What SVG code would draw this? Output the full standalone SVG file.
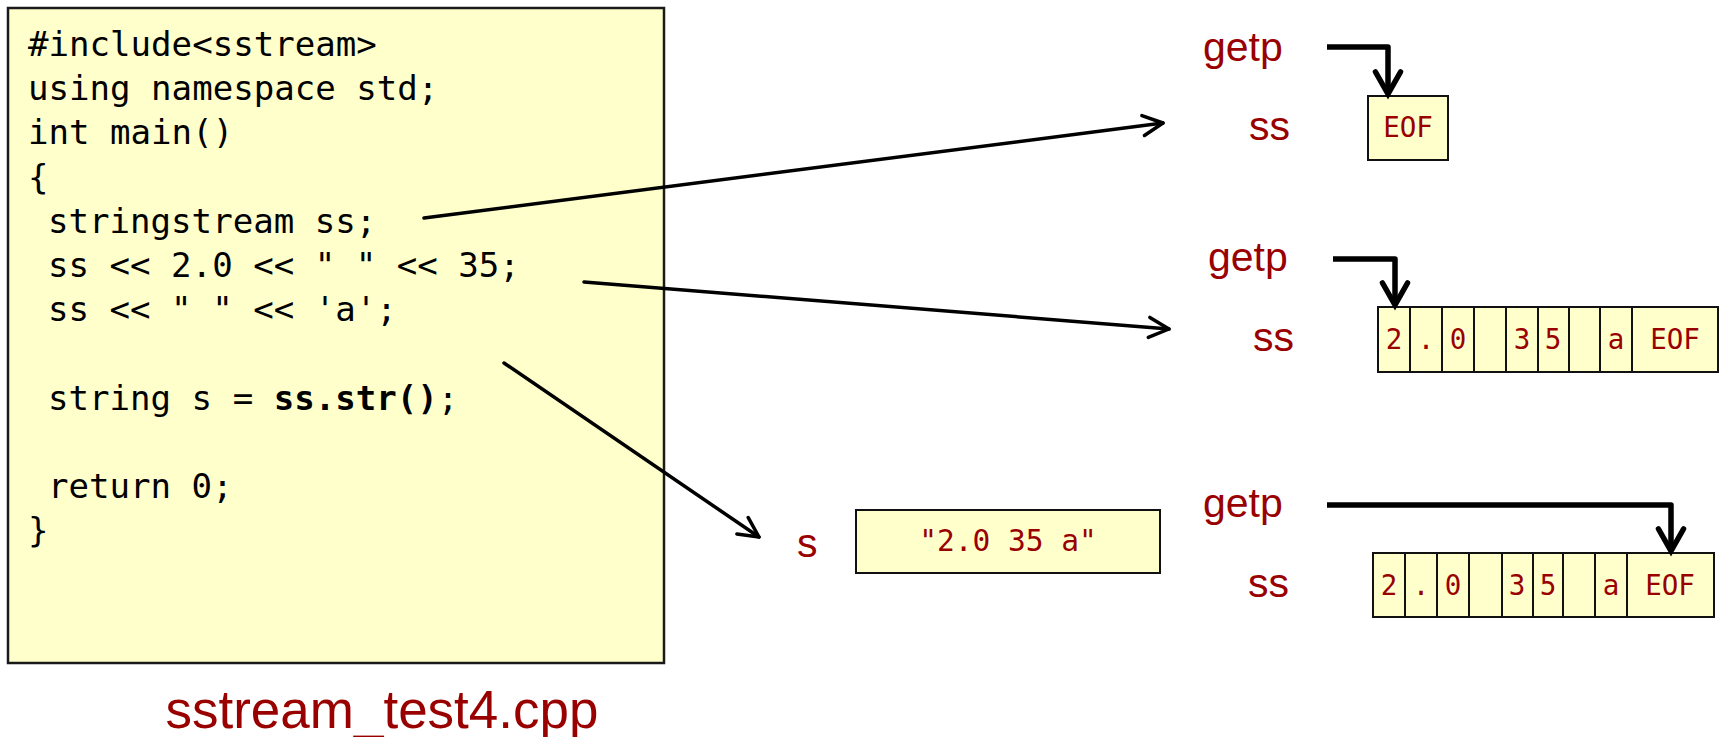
<svg xmlns="http://www.w3.org/2000/svg" width="1720" height="737" viewBox="0 0 1720 737">
  <defs>
    <style>
      .code { font-family: "DejaVu Sans Mono", "Liberation Mono", monospace; font-size: 34.1px; fill: #000; }
      .code .b { font-weight: bold; }
      .lbl { font-family: "Liberation Sans", Arial, sans-serif; font-size: 41px; fill: #990000; }
      .cell { fill: #FFFFCC; stroke: #111; stroke-width: 2; }
      .ch { font-family: "DejaVu Sans Mono", "Liberation Mono", monospace; font-size: 27.5px; fill: #990000; text-anchor: middle; }
      .link { fill: none; stroke: #000; stroke-width: 3.5; stroke-linecap: round; }
      .getp { fill: none; stroke: #000; stroke-width: 5.5; stroke-linejoin: round; stroke-linecap: butt; }
    </style>
    <marker id="open" markerUnits="userSpaceOnUse" markerWidth="40" markerHeight="40" viewBox="-30 -20 40 40" refX="0" refY="0" orient="auto" overflow="visible">
      <path d="M -20 -10 L 0 0 L -20 10" fill="none" stroke="#000" stroke-width="3.5" stroke-linecap="round" stroke-linejoin="round"/>
    </marker>
    <marker id="down" markerUnits="userSpaceOnUse" markerWidth="40" markerHeight="40" viewBox="-30 -20 40 40" refX="0" refY="0" orient="auto" overflow="visible">
      <path d="M -22 -12.5 L 0 0 L -22 12.5" fill="none" stroke="#000" stroke-width="5.5" stroke-linecap="round" stroke-linejoin="miter"/>
    </marker>
  </defs>

  <!-- source listing -->
  <g id="code">
    <rect x="8" y="8" width="656" height="655" fill="#FFFFCC" stroke="#1a1a1a" stroke-width="2.5"/>
    <text class="code" x="28" y="56">#include&lt;sstream&gt;</text>
    <text class="code" x="28" y="100">using namespace std;</text>
    <text class="code" x="28" y="144">int main()</text>
    <text class="code" x="28" y="189">{</text>
    <text class="code" x="48" y="233">stringstream ss;</text>
    <text class="code" x="48" y="277">ss &lt;&lt; 2.0 &lt;&lt; " " &lt;&lt; 35;</text>
    <text class="code" x="48" y="321">ss &lt;&lt; " " &lt;&lt; 'a';</text>
    <text class="code" x="48" y="410">string s = <tspan class="b">ss.str()</tspan>;</text>
    <text class="code" x="48" y="498">return 0;</text>
    <text class="code" x="28" y="542">}</text>
  </g>

  <g id="filename">
    <text x="382" y="728" text-anchor="middle" style="font-family:'Liberation Sans',Arial,sans-serif;font-size:53px;fill:#990000">sstream_test4.cpp</text>
  </g>

  <!-- state after construction -->
  <g id="state-empty">
    <text class="lbl" x="1203" y="61">getp</text>
    <text class="lbl" x="1249" y="140">ss</text>
    <rect class="cell" x="1368" y="96" width="80" height="64"/>
    <text class="ch" x="1408" y="137">EOF</text>
  </g>

  <!-- state after insertion -->
  <g id="state-filled">
    <text class="lbl" x="1208" y="271">getp</text>
    <text class="lbl" x="1253" y="351">ss</text>
    <rect class="cell" x="1378" y="307" width="32" height="65"/>
    <rect class="cell" x="1410" y="307" width="32" height="65"/>
    <rect class="cell" x="1442" y="307" width="32" height="65"/>
    <rect class="cell" x="1474" y="307" width="32" height="65"/>
    <rect class="cell" x="1506" y="307" width="32" height="65"/>
    <rect class="cell" x="1538" y="307" width="31" height="65"/>
    <rect class="cell" x="1569" y="307" width="31" height="65"/>
    <rect class="cell" x="1600" y="307" width="32" height="65"/>
    <rect class="cell" x="1632" y="307" width="86" height="65"/>
    <text class="ch" x="1394" y="349">2</text>
    <text class="ch" x="1426" y="349">.</text>
    <text class="ch" x="1458" y="349">0</text>
    <text class="ch" x="1522" y="349">3</text>
    <text class="ch" x="1553" y="349">5</text>
    <text class="ch" x="1616" y="349">a</text>
    <text class="ch" x="1675" y="349">EOF</text>
  </g>

  <!-- string copy -->
  <g id="string-s">
    <text class="lbl" x="797" y="557">s</text>
    <rect class="cell" x="856" y="510" width="304" height="63"/>
    <text class="ch" x="1008" y="551" style="font-size:29.5px">"2.0 35 a"</text>
  </g>

  <!-- state after str() -->
  <g id="state-read">
    <text class="lbl" x="1203" y="517">getp</text>
    <text class="lbl" x="1248" y="597">ss</text>
    <rect class="cell" x="1373" y="553" width="32" height="64"/>
    <rect class="cell" x="1405" y="553" width="32" height="64"/>
    <rect class="cell" x="1437" y="553" width="32" height="64"/>
    <rect class="cell" x="1469" y="553" width="33" height="64"/>
    <rect class="cell" x="1502" y="553" width="31" height="64"/>
    <rect class="cell" x="1533" y="553" width="30" height="64"/>
    <rect class="cell" x="1563" y="553" width="32" height="64"/>
    <rect class="cell" x="1595" y="553" width="32" height="64"/>
    <rect class="cell" x="1627" y="553" width="87" height="64"/>
    <text class="ch" x="1389" y="595">2</text>
    <text class="ch" x="1421" y="595">.</text>
    <text class="ch" x="1453" y="595">0</text>
    <text class="ch" x="1517" y="595">3</text>
    <text class="ch" x="1548" y="595">5</text>
    <text class="ch" x="1611" y="595">a</text>
    <text class="ch" x="1670" y="595">EOF</text>
  </g>

  <!-- connectors -->
  <g id="connectors">
    <line class="link" x1="424" y1="218" x2="1163" y2="123" marker-end="url(#open)"/>
    <line class="link" x1="584" y1="282" x2="1169" y2="329" marker-end="url(#open)"/>
    <line class="link" x1="504" y1="363" x2="759" y2="537" marker-end="url(#open)"/>
    <path class="getp" d="M 1327 47 H 1388 V 94" marker-end="url(#down)"/>
    <path class="getp" d="M 1333 259 H 1395 V 305" marker-end="url(#down)"/>
    <path class="getp" d="M 1327 505 H 1671 V 551" marker-end="url(#down)"/>
  </g>
</svg>
